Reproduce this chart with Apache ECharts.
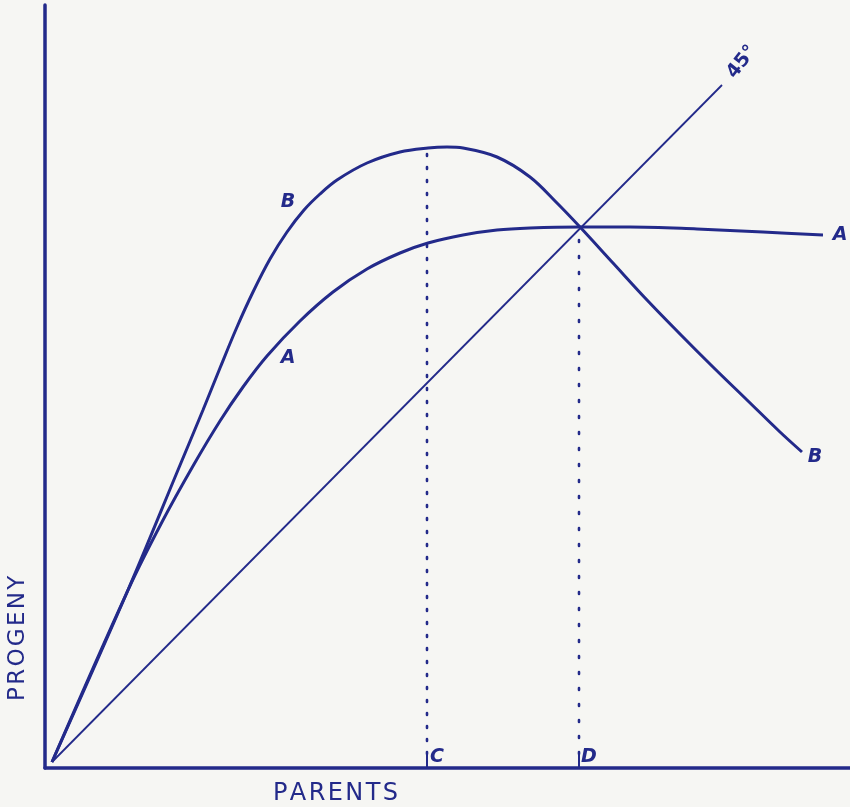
<!DOCTYPE html>
<html>
<head>
<meta charset="utf-8">
<script src="https://cdn.jsdelivr.net/npm/echarts@6/dist/echarts.min.js"></script>
<style>
  html, body { margin: 0; padding: 0; background: #f6f6f3; }
  #chart { width: 850px; height: 807px; }
</style>
</head>
<body>
<div id="chart"></div>
<script>
// values (units: parents / progeny, same scale on both axes)
const curveA = [[0,0],[76,172],[110,240],[141,296],[168,341],[191,375],[215,406],[248,441],[281,470],[315,493],[348,509],[376,519],[411,527],[445,532],[478,534],[528,535],[578,535],[645,533],[711,530],[771,527]];
const curveB = [[0,0],[76,172],[126,292],[151,352],[168,394],[185,435],[201,470],[218,503],[235,530],[252,552],[268,568],[285,582],[315,599],[348,610],[376,614],[395,615],[411,614],[445,605],[478,585],[505,559],[528,535],[561,499],[595,462],[628,428],[661,395],[695,362],[728,330],[750,310]];
const diagonal = [[0,0],[670,677]];
const markers = [
  { name: "C", x: 375, top: 614, gap: [2, 11] },
  { name: "D", x: 527, top: 535, gap: [2, 14] }
];
const curveLabels = [
  { name: "B", value: [236, 560] },
  { name: "A", value: [236, 404] },
  { name: "A", value: [788, 527] },
  { name: "B", value: [763, 305] }
];
const angleLabel = { name: "45°", value: [690, 700] };

const ink = "#232a8a";
const axisMin = { x: -7, y: -6 };
const letters = {
  color: ink,
  fontFamily: "DejaVu Sans",
  fontStyle: "italic",
  fontWeight: "bold",
  fontSize: 19
};

const chart = echarts.init(document.getElementById("chart"), null, { renderer: "canvas" });

const markerSeries = [];
markers.forEach((m) => {
  markerSeries.push({
    type: "line",
    data: [[m.x, axisMin.y], [m.x, 8]],
    symbol: "none",
    lineStyle: { color: ink, width: 2 },
    silent: true
  });
  markerSeries.push({
    type: "line",
    data: [[m.x, 8], [m.x, m.top]],
    symbol: "none",
    lineStyle: { color: ink, width: 2.6, type: m.gap, cap: "round" },
    silent: true
  });
});

chart.setOption({
  backgroundColor: "#f6f6f3",
  animation: false,
  grid: { left: 45, right: 0, top: 5, bottom: 39 },
  xAxis: {
    type: "value",
    min: axisMin.x,
    max: 798,
    axisLine: { show: true, onZero: false, lineStyle: { color: ink, width: 3.5 } },
    axisTick: { show: false },
    axisLabel: { show: false },
    splitLine: { show: false }
  },
  yAxis: {
    type: "value",
    min: axisMin.y,
    max: 757,
    axisLine: { show: true, onZero: false, lineStyle: { color: ink, width: 3.5 } },
    axisTick: { show: false },
    axisLabel: { show: false },
    splitLine: { show: false }
  },
  series: [
    {
      type: "line",
      data: diagonal,
      symbol: "none",
      lineStyle: { color: ink, width: 1.8 }
    },
    {
      type: "line",
      data: curveA,
      symbol: "none",
      smooth: 0.35,
      lineStyle: { color: ink, width: 3 }
    },
    {
      type: "line",
      data: curveB,
      symbol: "none",
      smooth: 0.35,
      lineStyle: { color: ink, width: 3 }
    },
    ...markerSeries,
    {
      type: "scatter",
      symbolSize: 0,
      itemStyle: { opacity: 1 },
      data: curveLabels.concat(markers.map((m) => ({ name: m.name, value: [m.x + 10, 5] }))),
      label: Object.assign({ show: true, position: "inside", formatter: (p) => p.name }, letters)
    },
    {
      type: "scatter",
      symbolSize: 0,
      itemStyle: { opacity: 1 },
      data: [angleLabel],
      label: {
        show: true,
        position: "inside",
        formatter: (p) => p.name,
        rotate: 52,
        color: ink,
        fontFamily: "DejaVu Sans",
        fontWeight: "bold",
        fontSize: 19
      }
    }
  ],
  graphic: [
    {
      type: "text",
      x: 273,
      y: 782,
      style: { text: "P\u200aA\u200aR\u200aE\u200aN\u200aT\u200aS", fill: ink, font: "24px 'DejaVu Sans'" }
    },
    {
      type: "text",
      x: 7,
      y: 701,
      rotation: Math.PI / 2,
      style: { text: "P\u200aR\u200aO\u200aG\u200aE\u200aN\u200aY", fill: ink, font: "23px 'DejaVu Sans'" }
    }
  ]
});
</script>
</body>
</html>
